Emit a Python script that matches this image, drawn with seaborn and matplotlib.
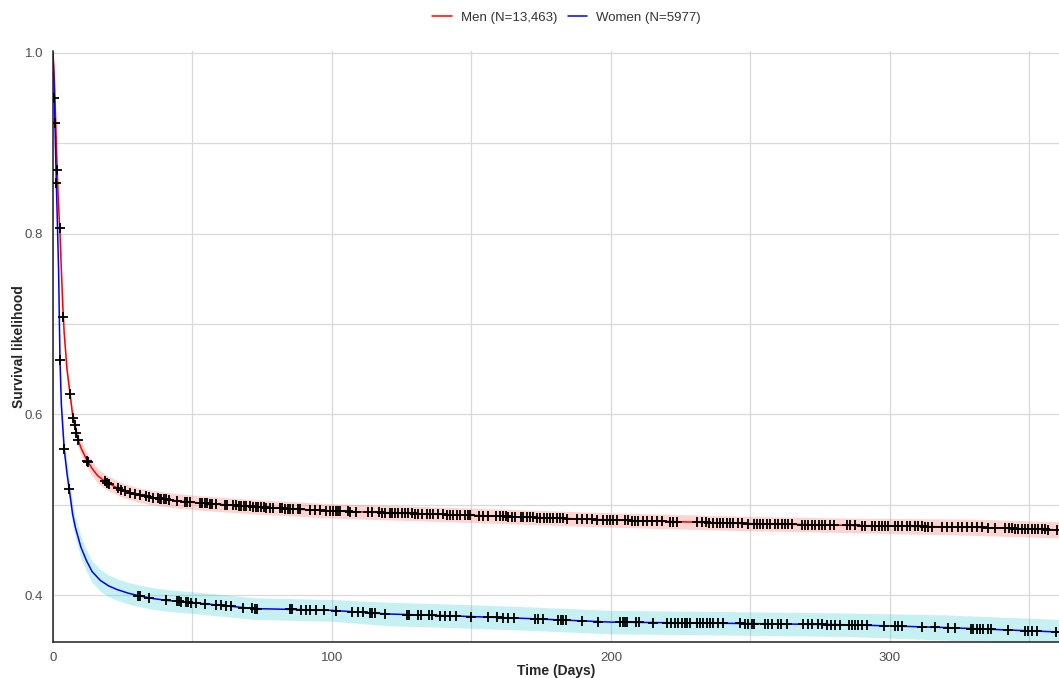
import numpy as np
import pandas as pd
import matplotlib.pyplot as plt
import seaborn as sns

# Kaplan-Meier estimates
men_t = [0, 0.5, 1, 1.5, 2, 2.5, 3, 3.5, 4, 5, 6, 7, 8, 9, 10, 12, 14, 16, 19, 24, 30, 35,
         45, 52, 75, 100, 142, 200, 250, 286, 330, 361]
men_s = [1.0, 0.97, 0.92, 0.87, 0.83, 0.80, 0.76, 0.72, 0.69, 0.65, 0.625, 0.60, 0.585, 0.572,
         0.563, 0.55, 0.54, 0.532, 0.525, 0.517, 0.511, 0.508, 0.504, 0.502, 0.497, 0.493,
         0.489, 0.483, 0.479, 0.477, 0.475, 0.472]
men_ci = [0.0, 0.003, 0.005, 0.006, 0.007, 0.007, 0.008, 0.008, 0.008, 0.008, 0.008, 0.008,
          0.008, 0.008, 0.008, 0.008, 0.008, 0.008, 0.008, 0.008, 0.008, 0.008, 0.008, 0.008,
          0.008, 0.008, 0.008, 0.008, 0.008, 0.008, 0.009, 0.009]

women_t = [0, 0.5, 1, 1.5, 2, 2.5, 3, 4, 5, 6, 7, 8, 10, 12, 14, 17, 20, 23, 27, 31, 36, 41,
           52, 72, 100, 120, 142, 170, 200, 232, 260, 286, 320, 361]
women_s = [1.0, 0.95, 0.88, 0.82, 0.76, 0.66, 0.61, 0.562, 0.535, 0.513, 0.49, 0.475, 0.453,
           0.438, 0.426, 0.416, 0.41, 0.406, 0.402, 0.399, 0.396, 0.394, 0.391, 0.385, 0.383,
           0.379, 0.377, 0.374, 0.370, 0.369, 0.368, 0.367, 0.364, 0.359]
women_ci = [0.0, 0.005, 0.008, 0.010, 0.011, 0.012, 0.012, 0.012, 0.012, 0.012, 0.012, 0.012,
            0.012, 0.012, 0.012, 0.012, 0.012, 0.012, 0.012, 0.012, 0.012, 0.012, 0.012, 0.012,
            0.012, 0.013, 0.013, 0.013, 0.013, 0.013, 0.013, 0.013, 0.014, 0.014]

# censoring times (the + marks)
men_censor = [1.5, 2.4, 3.7, 6.1, 7.3, 7.8, 8.4, 9.1, 12.3, 12.6,
              18.5, 19.4, 20.1, 23.3, 24.5, 25.7, 27.7, 29.3, 31.3, 33.2, 34.4, 35.8, 37.6,
              38.2, 38.8, 39.7, 40.6, 41.6, 44.4, 47.2, 48.0, 49.0, 52.6, 53.5, 54.4, 55.2,
              56.2, 57.1, 58.5, 61.5, 62.4, 64.5, 65.5, 66.7, 67.5, 68.3, 69.3, 70.5, 71.7,
              72.6, 73.5, 74.7, 75.5, 76.5, 77.7, 78.9, 81.2, 82.2, 83.0, 84.2, 85.1, 86.0,
              87.8, 88.6, 92.2, 93.8, 95.6, 98.0, 99.4, 100.4, 101.3, 102.2, 103.0, 105.7,
              106.6, 108.7, 112.9, 114.5, 116.8, 118.0, 118.9, 120.7,
              121.4, 122.6, 123.8, 125.0, 126.2, 127.4, 128.6, 129.8, 131.0, 132.2, 134.0,
              135.1, 136.3, 138.1, 139.9, 141.1, 142.3, 143.5, 144.7, 145.9, 147.7, 148.9,
              149.5, 152.8, 154.0, 156.0, 158.8, 160.2, 161.4, 162.4, 163.2, 164.4, 165.6,
              167.6, 168.6, 169.8, 171.0, 172.2, 173.4, 174.6, 176.0, 177.0, 178.1, 179.3,
              180.5, 181.7, 182.9, 184.1, 187.7, 189.5, 191.3, 193.1, 194.9, 197.3, 198.5,
              199.7, 200.8, 202.0, 205.0, 206.2, 207.4, 208.6, 209.8, 211.4, 212.8, 214.6,
              216.4, 218.2, 221.2, 222.4, 223.5, 231.0, 232.5, 234.1, 235.3, 236.5, 237.9,
              239.1, 240.3, 241.7,
              242.7, 243.9, 245.7, 246.9, 249.3, 251.1, 252.2, 253.4, 254.6, 255.8, 257.0,
              258.8, 260.0, 261.2, 262.4, 263.6, 264.8, 268.4, 269.6, 270.8, 272.0, 273.2,
              274.4, 275.5, 276.7, 278.5, 280.1, 284.5, 285.7, 287.5, 289.9, 291.1, 293.5,
              294.7, 295.9, 297.1, 298.3, 299.4, 301.8, 303.0, 304.2, 306.0, 307.2, 309.0,
              310.2, 311.4, 312.6, 313.8, 315.0, 318.6, 320.4, 322.1, 324.5, 325.7, 327.5,
              329.3, 331.1, 332.9, 335.3, 337.7, 341.3, 342.5, 343.6, 344.8, 346.0, 347.2,
              348.4, 349.6, 350.8, 352.0, 353.2, 354.4, 355.6, 356.8, 359.8]
women_censor = [0.5, 0.7, 1.2, 2.5, 4.0, 5.8,
                30.5, 31.3, 34.4, 40.4, 44.4, 45.2, 46.0, 47.6, 48.4, 49.6, 51.4, 54.4, 58.5,
                60.3, 62.1, 63.9, 68.1, 71.4, 72.3, 73.1, 84.8, 85.8, 89.0, 90.8, 92.0, 94.4,
                97.0, 101.3, 107.3, 109.3, 111.1, 113.5, 114.5, 115.3, 118.9,
                126.8, 127.7, 130.9, 131.8, 134.9, 135.7, 138.7, 140.5, 142.3, 144.4, 149.7,
                156.0, 159.0, 161.2, 163.2, 165.2, 172.8, 173.9, 175.7, 181.1, 182.0, 182.9,
                183.9, 189.5, 195.5, 203.2, 204.2, 205.0, 205.9, 209.0, 210.2, 215.2, 220.0,
                221.4, 222.9, 224.1, 225.3, 226.5, 227.4, 228.3, 230.7, 231.9, 233.1, 234.3,
                235.5, 236.7, 238.5, 240.3,
                246.2, 248.0, 249.2, 250.7, 251.4, 255.2, 256.2, 257.6, 259.7, 260.9, 263.0,
                268.9, 270.5, 272.2, 274.1, 275.5, 277.3, 278.9, 280.3, 282.1, 285.3, 286.3,
                287.5, 288.6, 289.9, 291.6, 298.0, 301.8, 303.0, 304.2, 311.4, 316.1, 320.7,
                323.3, 329.0, 329.9, 331.1, 332.3, 333.4, 335.2, 336.4, 342.4, 348.4, 349.6,
                350.8, 352.6, 359.7]

groups = ["Men (N=13,463)", "Women (N=5977)"]
line_colors = ["red", "blue"]
band_colors = ["#F8766D", "#00BFC4"]

sns.set_style("white")
plt.rcParams["font.family"] = ["Liberation Sans", "DejaVu Sans"]

curves = pd.concat([
    pd.DataFrame({"time": men_t, "surv": men_s, "ci": men_ci, "group": groups[0]}),
    pd.DataFrame({"time": women_t, "surv": women_s, "ci": women_ci, "group": groups[1]}),
])
# censor marks sit on their group's curve
marks = pd.concat([
    pd.DataFrame({"time": men_censor, "surv": np.interp(men_censor, men_t, men_s)}),
    pd.DataFrame({"time": women_censor, "surv": np.interp(women_censor, women_t, women_s)}),
])

fig = plt.figure(figsize=(10.59, 6.78), dpi=100)
ax = fig.add_axes([53 / 1059, 1 - 642 / 678, 1 - 53 / 1059, 591 / 678])

for g, bc, a in zip(groups, band_colors, [0.3, 0.22]):
    d = curves[curves["group"] == g]
    ax.fill_between(d["time"], d["surv"] - d["ci"], d["surv"] + d["ci"],
                    color=bc, alpha=a, lw=0, zorder=1)

sns.lineplot(data=curves, x="time", y="surv", hue="group", palette=line_colors,
             estimator=None, sort=True, lw=1.1, ax=ax, zorder=2, legend=False)
sns.scatterplot(data=marks, x="time", y="surv", marker="+", color="black", s=50,
                linewidth=1.3, ax=ax, zorder=3, legend=False)

ax.set_xlim(0, 360.6)
ax.set_ylim(0.348, 1.002)
ax.set_xticks([0, 100, 200, 300])
ax.set_xticks([50, 150, 250, 350], minor=True)
ax.set_yticks([0.4, 0.6, 0.8, 1.0])
ax.set_yticks([0.5, 0.7, 0.9], minor=True)
ax.set_yticklabels(["0.4", "0.6", "0.8", "1.0"])
ax.grid(which="both", color="#D9D9D9", lw=0.9)
ax.set_axisbelow(True)
ax.tick_params(which="major", length=4, width=0.8, color="#333333",
               labelcolor="#4D4D4D", labelsize=9.5, pad=3)
ax.tick_params(which="minor", length=0)
for side in ["top", "right"]:
    ax.spines[side].set_visible(False)
for side in ["left", "bottom"]:
    ax.spines[side].set_color("#222222")
    ax.spines[side].set_linewidth(1.1)

ax.set_xlabel("Time (Days)", fontsize=10, fontweight="bold", labelpad=0)
ax.set_ylabel("Survival likelihood", fontsize=10, fontweight="bold", labelpad=-1)

handles = [plt.Line2D([], [], color=c, lw=1.1) for c in line_colors]
fig.legend(handles, groups, loc="center", bbox_to_anchor=(0.535, 1 - 18 / 678), ncol=2,
           frameon=False, fontsize=9.5, labelcolor="#333333", handlelength=1.45,
           handletextpad=0.7, columnspacing=0.8)

fig.savefig("out.png", dpi=100)
